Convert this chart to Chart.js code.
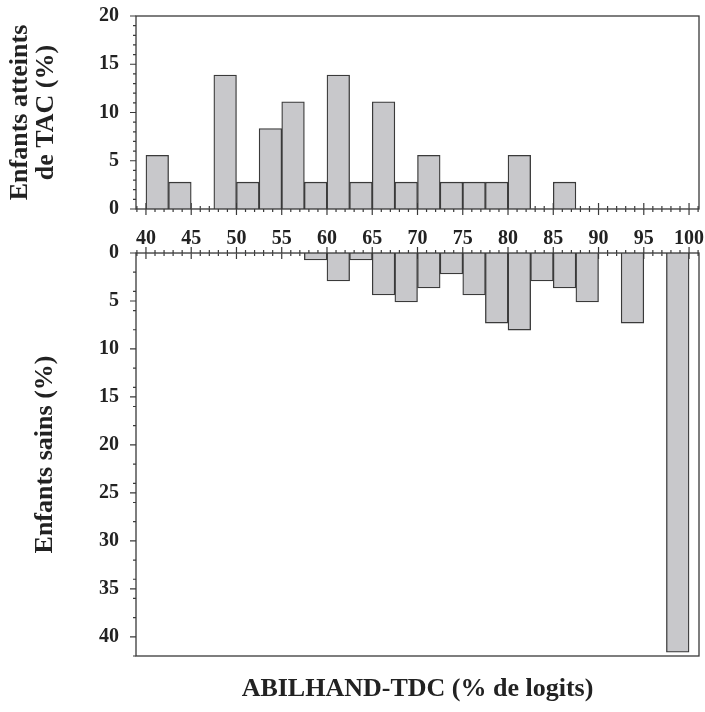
<!DOCTYPE html>
<html>
<head>
<meta charset="utf-8">
<title>ABILHAND-TDC</title>
<script src="https://cdn.jsdelivr.net/npm/chart.js@4"></script>
<style>
  body { margin: 0; background: #fff; }
  #wrap { position: relative; width: 705px; height: 712px; }
  canvas { position: absolute; left: 0; }
</style>
</head>
<body>
<div id="wrap">
  <canvas id="tacChart" width="705" height="250" style="top:0px"></canvas>
  <canvas id="sainsChart" width="705" height="482" style="top:230px"></canvas>
</div>
<script>
// Histogram bins (left edge, % de logits), width 2.5
const binWidth = 2.5;
const binStarts = [40, 42.5, 45, 47.5, 50, 52.5, 55, 57.5, 60, 62.5, 65, 67.5,
  70, 72.5, 75, 77.5, 80, 82.5, 85, 87.5, 90, 92.5, 95, 97.5];

// Enfants atteints de TAC (%)
const tacValues = [5.56, 2.78, 0, 13.89, 2.78, 8.33, 11.11, 2.78, 13.89, 2.78, 11.11, 2.78,
  5.56, 2.78, 2.78, 2.78, 5.56, 0, 2.78, 0, 0, 0, 0, 0];

// Enfants sains (%)
const sainsValues = [0, 0, 0, 0, 0, 0, 0, 0.73, 2.92, 0.73, 4.38, 5.11,
  3.65, 2.19, 4.38, 7.30, 8.03, 2.92, 3.65, 5.11, 0, 7.30, 0, 41.61];

const xTickValues = [40, 45, 50, 55, 60, 65, 70, 75, 80, 85, 90, 95, 100];
const tacTickValues = [0, 5, 10, 15, 20];
const sainsTickValues = [0, 5, 10, 15, 20, 25, 30, 35, 40];

const lineColor = "#3a3a3a";
const barFill = "#c8c8cb";
const serif = "'Liberation Serif', 'Times New Roman', serif";

// Ticks crossing the zero line, minor ticks on y, and the plot frame
const axisDecor = {
  id: "axisDecor",
  beforeDatasetsDraw(chart, args, opts) {
    const { ctx, chartArea, scales } = chart;
    const x = scales.x;
    const y = scales.y;
    const y0 = y.getPixelForValue(0);
    ctx.save();
    ctx.strokeStyle = lineColor;
    ctx.lineWidth = 1.2;
    ctx.beginPath();
    for (let v = Math.ceil(x.min); v <= x.max; v++) {
      const px = x.getPixelForValue(v);
      const len = v % 5 === 0 ? 6 : 3;
      ctx.moveTo(px, y0 - len);
      ctx.lineTo(px, y0 + len);
    }
    for (let v = 0; v <= y.max; v++) {
      if (v % 5 !== 0 && v % opts.yMinor !== 0) continue;
      const py = y.getPixelForValue(v);
      const len = v % 5 === 0 ? 6 : 3;
      ctx.moveTo(chartArea.left - len, py);
      ctx.lineTo(chartArea.left, py);
    }
    ctx.stroke();
    ctx.restore();
  },
  afterDatasetsDraw(chart) {
    const { ctx, chartArea } = chart;
    ctx.save();
    ctx.strokeStyle = lineColor;
    ctx.lineWidth = 1.3;
    ctx.strokeRect(chartArea.left, chartArea.top,
      chartArea.right - chartArea.left, chartArea.bottom - chartArea.top);
    ctx.restore();
  },
};

function histData(values) {
  return binStarts.map((b, i) => ({ x: b + binWidth / 2, y: values[i] }));
}

function barDataset(values) {
  return {
    data: histData(values),
    backgroundColor: barFill,
    borderColor: lineColor,
    borderWidth: (c) => (c.raw && c.raw.y > 0 ? 1.3 : 0),
    barPercentage: 1,
    categoryPercentage: 1,
  };
}

function setTicks(values) {
  return (scale) => {
    scale.ticks = values.map((v) => ({ value: v }));
  };
}

const tickFont = { family: serif, size: 20, weight: "bold" };
const titleFont = { family: serif, size: 26, weight: "bold", lineHeight: 1.0 };

// Top chart: Enfants atteints de TAC
new Chart(document.getElementById("tacChart"), {
  type: "bar",
  data: { datasets: [barDataset(tacValues)] },
  options: {
    responsive: false,
    animation: false,
    layout: { padding: { top: 16, right: 6, left: 0, bottom: 0 } },
    plugins: { legend: { display: false }, tooltip: { enabled: false }, axisDecor: { yMinor: 1 } },
    scales: {
      x: {
        type: "linear",
        min: 38.9,
        max: 101.1,
        offset: false,
        grid: { display: false },
        border: { display: false },
        afterBuildTicks: setTicks(xTickValues),
        ticks: { font: tickFont, color: "#222", padding: 10, maxRotation: 0, autoSkip: false },
        afterFit: (scale) => {
          scale.height = 41;
          scale.paddingLeft = 0;
          scale.paddingRight = 0;
        },
      },
      y: {
        min: 0,
        max: 20,
        grid: { display: false },
        border: { display: false },
        afterBuildTicks: setTicks(tacTickValues),
        ticks: { font: tickFont, color: "#222", padding: 9 },
        title: {
          display: true,
          text: ["Enfants atteints", "de TAC (%)"],
          font: titleFont,
          color: "#222",
          padding: { top: 7, bottom: 0 },
        },
        afterFit: (scale) => {
          scale.width = 136;
          scale.paddingTop = 0;
          scale.paddingBottom = 0;
        },
      },
    },
  },
  plugins: [axisDecor],
});

// Bottom chart: Enfants sains (bars hang down from 0)
new Chart(document.getElementById("sainsChart"), {
  type: "bar",
  data: { datasets: [barDataset(sainsValues)] },
  options: {
    responsive: false,
    animation: false,
    layout: { padding: { top: 23, right: 6, left: 0, bottom: 0 } },
    plugins: { legend: { display: false }, tooltip: { enabled: false }, axisDecor: { yMinor: 2 } },
    scales: {
      x: {
        type: "linear",
        min: 38.9,
        max: 101.1,
        offset: false,
        grid: { display: false },
        border: { display: false },
        ticks: { display: false },
        title: {
          display: true,
          text: "ABILHAND-TDC (% de logits)",
          font: { family: serif, size: 26, weight: "bold", lineHeight: 1.2 },
          color: "#222",
          padding: { top: 0, bottom: 7 },
        },
        afterFit: (scale) => {
          scale.height = 56;
          scale.paddingLeft = 0;
          scale.paddingRight = 0;
        },
      },
      y: {
        min: 0,
        max: 42,
        reverse: true,
        grid: { display: false },
        border: { display: false },
        afterBuildTicks: setTicks(sainsTickValues),
        ticks: { font: tickFont, color: "#222", padding: 9 },
        title: {
          display: true,
          text: "Enfants sains (%)",
          font: titleFont,
          color: "#222",
          padding: { top: 32, bottom: 0 },
        },
        afterFit: (scale) => {
          scale.width = 136;
          scale.paddingTop = 0;
          scale.paddingBottom = 0;
        },
      },
    },
  },
  plugins: [axisDecor],
});
</script>
</body>
</html>
